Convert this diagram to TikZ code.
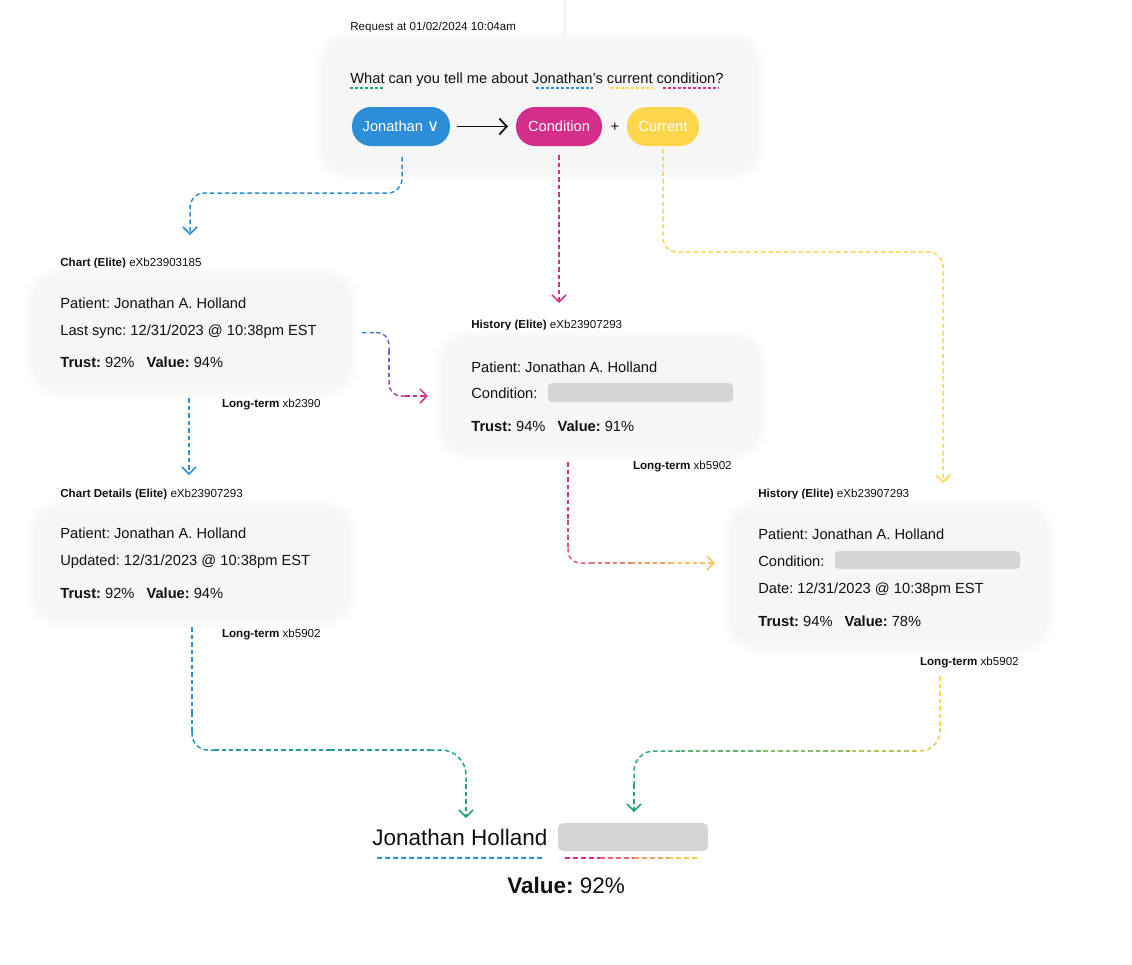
\documentclass[tikz,border=0pt]{standalone}
\usepackage{fontspec}
\setmainfont{Liberation Sans}
\newfontfamily\djv{DejaVu Sans}
\usetikzlibrary{arrows.meta,calc,fit}
\definecolor{jblue}{HTML}{2B8ED6}
\definecolor{jpink}{HTML}{D42E8B}
\definecolor{jyellow}{HTML}{FDD64B}
\definecolor{jgreen}{HTML}{1DA57A}
\definecolor{cardfill}{HTML}{F6F6F6}
\definecolor{halo1}{HTML}{F9F9F9}
\definecolor{halo2}{HTML}{FCFCFC}
\definecolor{barfill}{HTML}{D5D5D5}
\definecolor{ink}{HTML}{111111}
\definecolor{pipe}{HTML}{F2F2F2}
\frenchspacing
\begin{document}
\begin{tikzpicture}[x=0.02cm,y=-0.02cm,
  card/.style={fill=cardfill, draw=halo1, line width=0.08cm, preaction={draw=halo2, line width=0.22cm}, rounded corners=0.6cm, inner sep=0pt, outer sep=0pt},
  txt/.style={anchor=base west, inner sep=0pt, text=ink, font=\fontsize{8.35}{10}\selectfont},
  small/.style={anchor=base west, inner sep=0pt, text=ink, font=\fontsize{6.6}{8}\selectfont},
  smallr/.style={small, anchor=base east},
  pill/.style={rounded corners=0.38cm, minimum height=0.78cm, inner sep=0pt, outer sep=0pt, text=white, font=\fontsize{8.35}{10}\selectfont},
  bar/.style={fill=barfill, rounded corners=0.08cm, inner sep=0pt},
  conn/.style={line width=0.03cm, dash pattern=on 0.09cm off 0.06cm},
  arrowed/.style={-{Straight Barb[length=0.14cm,width=0.28cm]}},
  uline/.style={line width=0.022cm, dash pattern=on 0.06cm off 0.04cm},
  bline/.style={line width=0.035cm, dash pattern=on 0.1cm off 0.06cm},
  big/.style={anchor=base west, inner sep=0pt, text=ink, font=\fontsize{12.8}{15}\selectfont}
]
\fill[white] (0,0) rectangle (1132,964);
\useasboundingbox (0,0) rectangle (1132,964);

% ---------- request box ----------
\node[small] (req) at (350,30) {Request at 01/02/2024 10:04am};
\coordinate (pipetop) at (565,0);
\node[card, fit={(320,37) (760,175)}] (qbox) {};
\draw[pipe, line width=0.03cm] (pipetop) -- ($(qbox.north)+(25,0)$);
\node[txt] (q) at (350,83) {What can you tell me about Jonathan’s current condition?};
\draw[uline, jgreen] (350,88) -- (383,88);
\draw[uline, jblue] (536,88) -- (593,88);
\draw[uline, jyellow] (611,88) -- (653,88);
\draw[uline, jpink] (663,88) -- (719,88);

\node[pill, fill=jblue, minimum width=1.96cm] (jon) at (401,126.5) {Jonathan {\djv\fontsize{9.5}{10}\selectfont ∨}};
\node[pill, fill=jpink, minimum width=1.72cm] (cond) at (559,126.5) {Condition};
\node[txt, anchor=center] (plus) at (615,127) {+};
\node[pill, fill=jyellow, minimum width=1.44cm] (cur) at (663,126.5) {Current};
\draw[ink, line width=0.035cm, -{Straight Barb[length=0.15cm,width=0.32cm]}, shorten <=0.14cm, shorten >=0.16cm] (jon) -- (cond);

% ---------- connectors from the request ----------
\coordinate (t1) at (190,235);
\draw[conn, jblue, arrowed, rounded corners=0.28cm] ($(jon.south)+(1,11)$) -- (402,193) -- (190,193) -- (t1);
\coordinate (t2) at (559,303);
\draw[conn, jpink, arrowed] ($(cond.south)+(0,9)$) -- (t2);
\coordinate (t3) at (943,483);
\draw[conn, jyellow, arrowed, rounded corners=0.28cm] ($(cur.south)+(0,3)$) -- (663,252) -- (943,252) -- (t3);

% ---------- Chart (Elite) ----------
\node[small] (l1) at (60,266) {\textbf{Chart (Elite)} eXb23903185};
\node[card, fit={(30,273) (353,392)}] (chart) {};
\node[txt] (c1a) at (60,308) {Patient: Jonathan A. Holland};
\node[txt] (c1b) at (60,335) {Last sync: 12/31/2023 @ 10:38pm EST};
\node[txt] (c1c) at (60,367) {\textbf{Trust:} 92\%\hspace{0.24cm}\textbf{Value:} 94\%};
\node[smallr] (lt1) at (321,407) {\textbf{Long-term} xb2390};

% ---------- History (Elite) 1 ----------
\node[small] (l2) at (471,328) {\textbf{History (Elite)} eXb23907293};
\node[card, fit={(440,335) (762,455)}] (hist1) {};
\node[txt] (h1a) at (471,372) {Patient: Jonathan A. Holland};
\node[txt] (h1b) at (471,398) {Condition:};
\node[bar, fit={(548,383) (733,402)}] (bar1) {};
\node[txt] (h1c) at (471,431) {\textbf{Trust:} 94\%\hspace{0.24cm}\textbf{Value:} 91\%};
\node[smallr] (lt2) at (732,469) {\textbf{Long-term} xb5902};

% chart -> history (blue to pink)
\coordinate (pa) at ($(chart.east)+(9,0)$);
\coordinate (t4) at (428,396);
\draw[conn, jpink!10!jblue] (pa) -- (376,332.5);
\draw[conn, jpink!30!jblue, rounded corners=0.24cm] (376,332.5) -- (389,332.5) -- (389,350);
\draw[conn, jpink!50!jblue] (389,350) -- (389,380);
\draw[conn, jpink!70!jblue, rounded corners=0.24cm] (389,380) -- (389,396) -- (405,396);
\draw[conn, jpink, arrowed] (405,396) -- (t4);

% chart -> chart details
\coordinate (t6) at (189,475);
\draw[conn, jblue, arrowed] ($(chart.south)+(-2.5,6)$) -- (t6);

% ---------- Chart Details (Elite) ----------
\node[small] (l3) at (60,497) {\textbf{Chart Details (Elite)} eXb23907293};
\node[card, fit={(32,505) (352,622)}] (cd) {};
\node[txt] (c2a) at (60,538) {Patient: Jonathan A. Holland};
\node[txt] (c2b) at (60,565) {Updated: 12/31/2023 @ 10:38pm EST};
\node[txt] (c2c) at (60,598) {\textbf{Trust:} 92\%\hspace{0.24cm}\textbf{Value:} 94\%};
\node[smallr] (lt3) at (321,637) {\textbf{Long-term} xb5902};

% ---------- History (Elite) 2 ----------
\node[small] (l4) at (758,497) {\textbf{History (Elite)} eXb23907293};
\node[card, fit={(728,504) (1050,648)}] (hist2) {};
\node[txt] (h2a) at (758,539) {Patient: Jonathan A. Holland};
\node[txt] (h2b) at (758,566) {Condition:};
\node[bar, fit={(835,551) (1020,569)}] (bar2) {};
\node[txt] (h2c) at (758,593) {Date: 12/31/2023 @ 10:38pm EST};
\node[txt] (h2d) at (758,626) {\textbf{Trust:} 94\%\hspace{0.24cm}\textbf{Value:} 78\%};
\node[smallr] (lt4) at (1019,665) {\textbf{Long-term} xb5902};

% history1 -> history2 (pink to yellow)
\coordinate (pb) at ($(hist1.south west)+(128,7)$);
\coordinate (t5) at (715,563);
\draw[conn, jpink] (pb) -- (568,520);
\draw[conn, jpink!85!jyellow] (568,520) -- (568,548);
\draw[conn, jpink!72!jyellow, rounded corners=0.24cm] (568,548) -- (568,563) -- (590,563);
\draw[conn, jpink!55!jyellow] (590,563) -- (630,563);
\draw[conn, jpink!35!jyellow] (630,563) -- (670,563);
\draw[conn, jpink!12!jyellow, arrowed] (670,563) -- (t5);

% chart details -> name (blue to green)
\coordinate (pc) at ($(cd.south)+(0,5)$);
\coordinate (t7) at (466,818);
\draw[conn, jblue] (pc) -- (192,712);
\draw[conn, jblue!82!jgreen] (192,712) -- (192,732);
\draw[conn, jblue!65!jgreen, rounded corners=0.32cm] (192,732) -- (192,750) -- (214,750);
\draw[conn, jblue!50!jgreen] (214,750) -- (330,750);
\draw[conn, jblue!35!jgreen] (330,750) -- (430,750);
\draw[conn, jblue!18!jgreen, rounded corners=0.5cm] (430,750) -- (466,750) -- (466,784);
\draw[conn, jgreen, arrowed] (466,784) -- (t7);

% history2 -> value (yellow to green)
\coordinate (pd) at ($(hist2.south west)+(212,28)$);
\coordinate (t8) at (634,812);
\draw[conn, jyellow] (pd) -- (940,728);
\draw[conn, jyellow!85!jgreen, rounded corners=0.4cm] (940,728) -- (940,751) -- (916,751);
\draw[conn, jyellow!68!jgreen] (916,751) -- (850,751);
\draw[conn, jyellow!48!jgreen] (850,751) -- (760,751);
\draw[conn, jyellow!28!jgreen] (760,751) -- (680,751);
\draw[conn, jyellow!10!jgreen, rounded corners=0.4cm] (680,751) -- (634,751) -- (634,784);
\draw[conn, jgreen, arrowed] (634,784) -- (t8);

% ---------- result ----------
\node[big] (name) at (372,845) {Jonathan Holland};
\node[bar, rounded corners=0.1cm, fit={(558,823) (708,851)}] (val) {};
\draw[bline, jblue] (377,858) -- (543,858);
\draw[bline, jpink] (565,858) -- (600,858);
\draw[bline, jpink!65!jyellow] (600,858) -- (634,858);
\draw[bline, jpink!35!jyellow] (634,858) -- (668,858);
\draw[bline, jpink!8!jyellow] (668,858) -- (700,858);
\node[big] (value) at (507,893) {\textbf{Value:} 92\%};
\end{tikzpicture}
\end{document}
